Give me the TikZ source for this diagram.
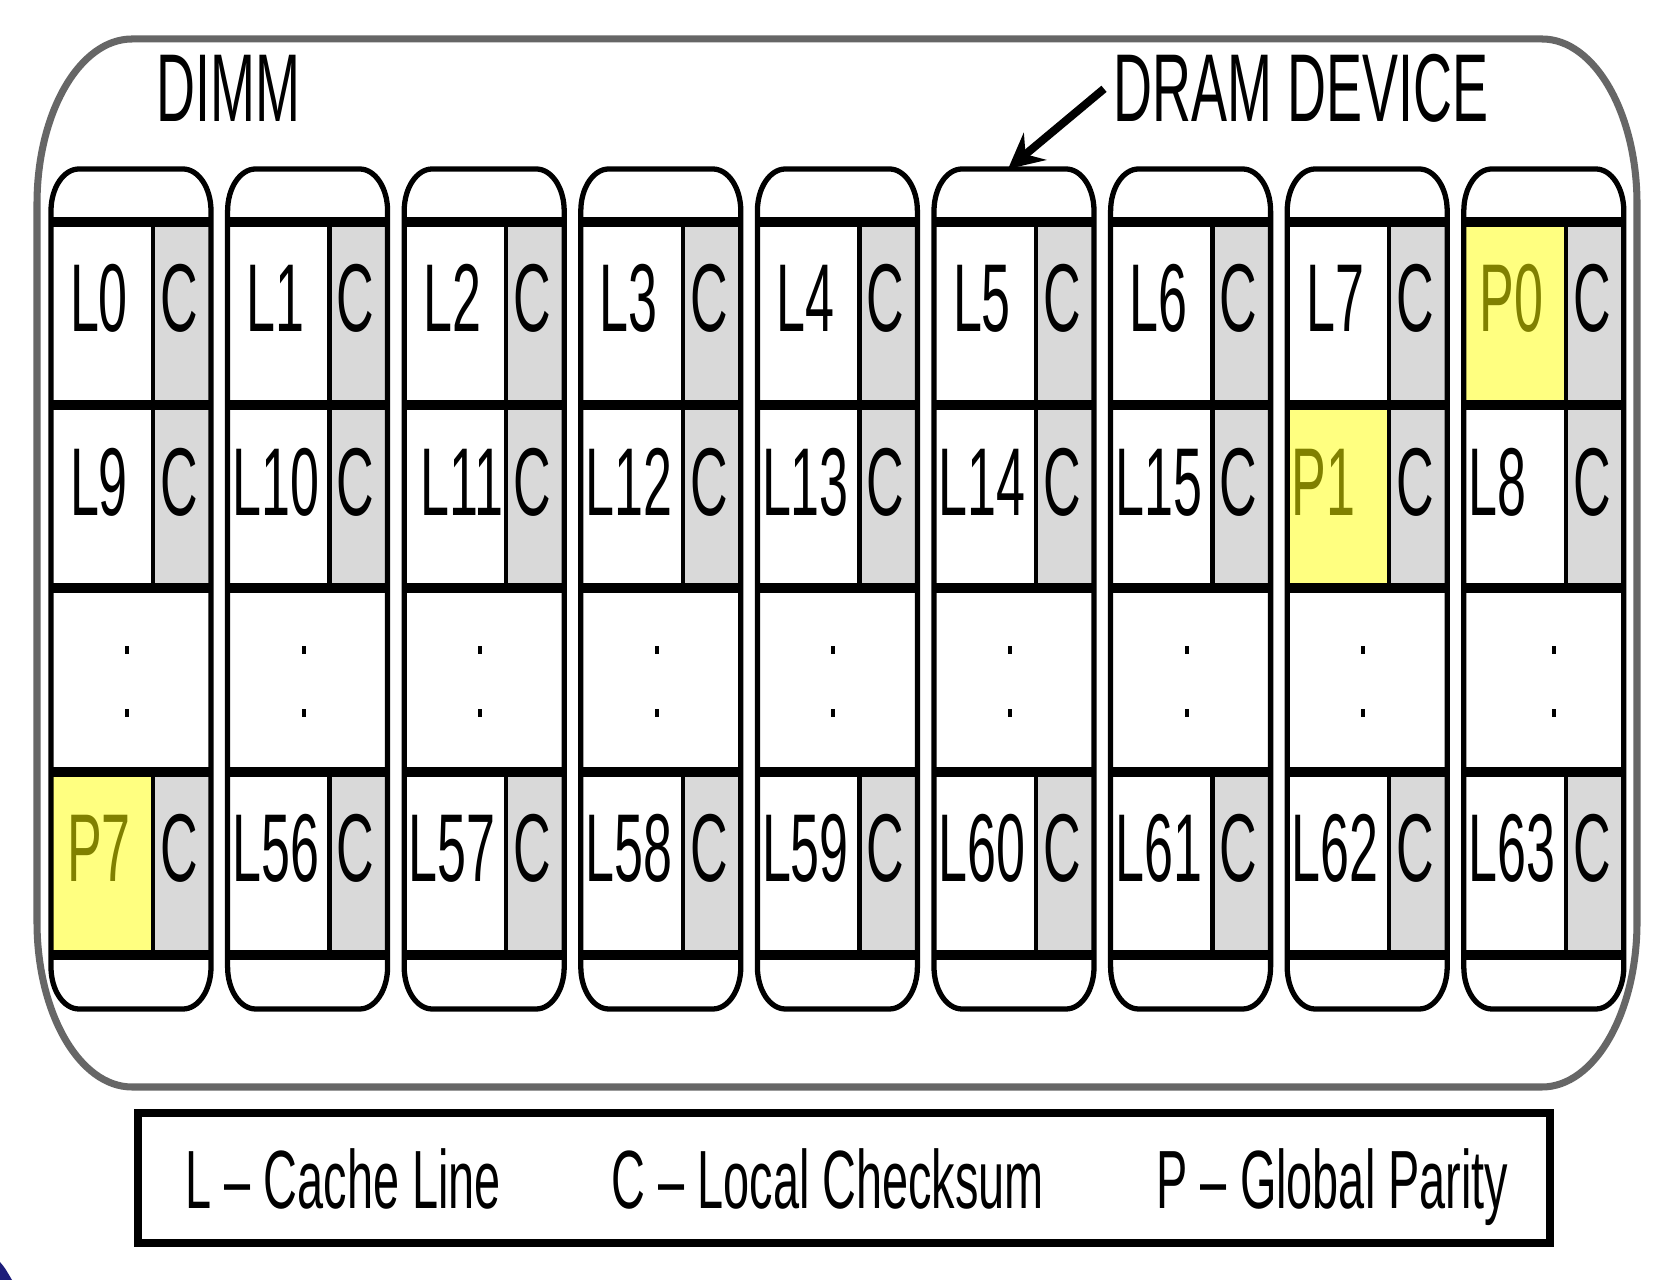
\documentclass[tikz,border=0pt]{standalone}
\usepackage{fontspec}
\setmainfont{Liberation Sans}[FakeStretch=0.54]
\newfontfamily\titlefont{Liberation Sans}[FakeStretch=0.56,Ligatures=TeX]
\newfontfamily\legfont{Liberation Sans}[FakeStretch=0.567,Ligatures=TeX]
\usepackage{tikz}
\usetikzlibrary{arrows.meta,positioning,calc}
\definecolor{DimmGray}{HTML}{666666}
\definecolor{CsumGray}{HTML}{D9D9D9}
\definecolor{ParFill}{HTML}{FFFF80}
\definecolor{ParText}{HTML}{808000}
\definecolor{EdgeBlue}{HTML}{1C1C7A}

% outline with oval corners: style, x1, y1, x2, y2, rx, ry
\newcommand{\ovalbox}[7]{%
  \draw[#1] (#2,#3+#7) .. controls (#2,#3+0.448*#7) and (#2+0.448*#6,#3) .. (#2+#6,#3)
    -- (#4-#6,#3) .. controls (#4-0.448*#6,#3) and (#4,#3+0.448*#7) .. (#4,#3+#7)
    -- (#4,#5-#7) .. controls (#4,#5-0.448*#7) and (#4-0.448*#6,#5) .. (#4-#6,#5)
    -- (#2+#6,#5) .. controls (#2+0.448*#6,#5) and (#2,#5-0.448*#7) .. (#2,#5-#7) -- cycle;}

\begin{document}
\begin{tikzpicture}[x=0.01cm,y=-0.01cm,
  lbl/.style={font=\fontsize{27.4}{30}\selectfont,inner sep=0pt,anchor=base},
  ttl/.style={font=\titlefont\fontsize{27.4}{30}\selectfont,inner sep=0pt,anchor=base west},
  par/.style={lbl,text=ParText},
  leg/.style={font=\legfont\fontsize{23.5}{26}\selectfont,inner sep=0pt,anchor=base west},
  sep/.style={line width=2.85pt},
  divd/.style={line width=1.3pt},
  chipl/.style={line width=1.5pt},
  dimm/.style={DimmGray,line width=2pt},
  arr/.style={-{Stealth[length=10pt,width=10pt,inset=3.5pt]},line width=2.3pt}]
  \useasboundingbox (0,0) rectangle (1660,1280);
  \fill[white] (0,0) rectangle (1660,1280);

  % DIMM outline and titles
  \ovalbox{dimm}{37}{39}{1637}{1087}{95}{165}
  \node[ttl] (dimmlbl) at (156,122) {DIMM};
  \node[ttl,inner xsep=2.6pt] (dram) at (1104,122) {DRAM DEVICE};

  % checksum cells
  \foreach \i in {0,...,8}{
    \pgfmathsetmacro{\xl}{51+176.6*\i}
    \pgfmathsetmacro{\xr}{\xl+160}
    \foreach \yt in {222,405.25,771.75}
      \fill[CsumGray] (\xl+102,\yt) rectangle (\xr,\yt+183.25);
  }
  % global parity cells
  \fill[ParFill] (51+176.6*8,222) rectangle ++(102,183.25);
  \fill[ParFill] (51+176.6*7,405.25) rectangle ++(102,183.25);
  \fill[ParFill] (51,771.75) rectangle ++(102,183.25);

  % chip grid, outline, C labels, dots
  \foreach \i in {0,...,8}{
    \pgfmathsetmacro{\xl}{51+176.6*\i}
    \pgfmathsetmacro{\xr}{\xl+160}
    \pgfmathsetmacro{\dx}{\i==8 ? 14 : 0}
    \foreach \yt in {222,405.25,588.5,771.75,955}
      \draw[sep] (\xl,\yt) -- (\xr,\yt);
    \foreach \yt [count=\r] in {222,405.25,771.75}{
      \draw[divd] (\xl+102,\yt) -- (\xl+102,\yt+183.25);
      \node[lbl] (csum\i-\r) at (\xl+128,\yt+110) {C};
    }
    \fill (\xl+74+\dx,646) rectangle ++(4,8);
    \fill (\xl+74+\dx,709) rectangle ++(4,8);
    \ovalbox{chipl}{\xl}{169}{\xr}{1009}{28}{42}
  }

  % cache line labels
  \foreach \i/\t [evaluate=\i as \cx using 99+176.6*\i] in
      {0/L0,1/L1,2/L2,3/L3,4/L4,5/L5,6/L6,7/L7}
    \node[lbl] (line\i-1) at (\cx,332) {\t};
  \foreach \i/\t [evaluate=\i as \cx using 99+176.6*\i] in
      {0/L9,1/L10,3/L12,4/L13,5/L14,6/L15}
    \node[lbl] (line\i-2) at (\cx,515.25) {\t};
  \foreach \i/\t [evaluate=\i as \cx using 99+176.6*\i] in
      {1/L56,2/L57,3/L58,4/L59,5/L60,6/L61,7/L62,8/L63}
    \node[lbl] (line\i-3) at (\cx,881.75) {\t};
  \node[lbl,anchor=base east] (line2-2) at (51+176.6*2+100,515.25) {L11};
  \node[lbl,anchor=base west] (line8-2) at (51+176.6*8+4,515.25) {L8};

  % parity labels
  \node[par] (par0) at (99+176.6*8,332) {P0};
  \node[par,anchor=base west] (par1) at (51+176.6*7+4,515.25) {P1};
  \node[par] (par7) at (99,881.75) {P7};

  % pointer to one device
  \coordinate (dev5) at (1008,169);
  \draw[arr] (dram.west) -- (dev5);

  % legend
  \draw[line width=2.3pt] (138,1113) rectangle (1550,1243);
  \node[leg] (legl) at (185,1209) {L – Cache Line};
  \node[leg] (legc) at (611,1209) {C – Local Checksum};
  \node[leg] (legp) at (1156,1209) {P – Global Parity};

  \fill[EdgeBlue] (0,1262) .. controls (5,1268) .. (12,1280) -- (0,1280) -- cycle;
\end{tikzpicture}
\end{document}
